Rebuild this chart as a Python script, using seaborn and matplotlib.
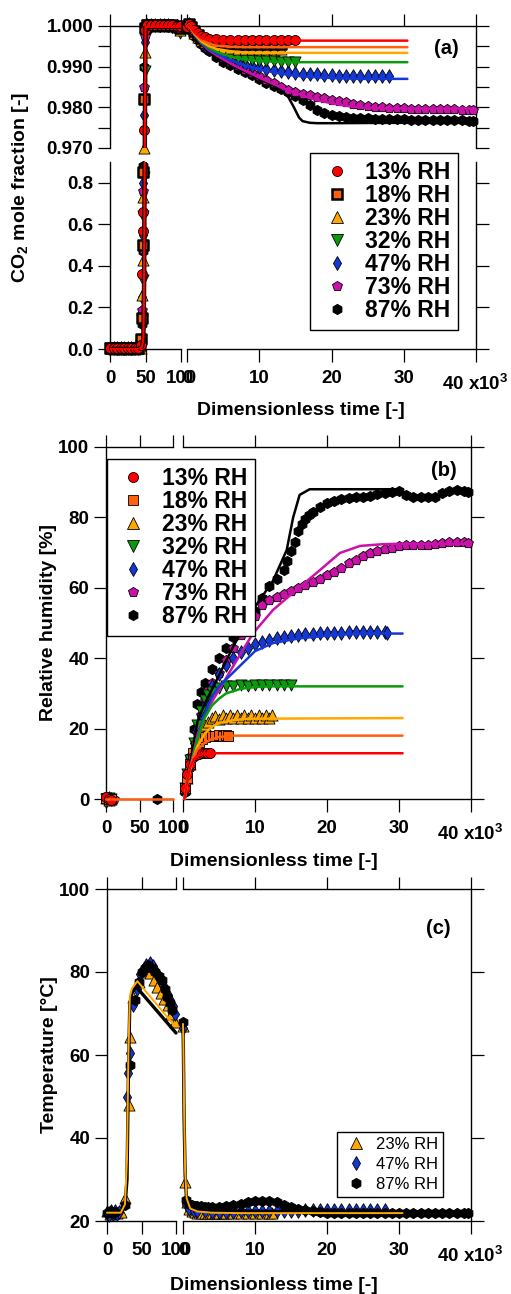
import numpy as np
import pandas as pd
import matplotlib
matplotlib.use('Agg')
import matplotlib.pyplot as plt
from matplotlib.lines import Line2D
import seaborn as sns

W, H = 511, 1294

# ---------------- series styling ----------------
LABELS = ['13% RH', '18% RH', '23% RH', '32% RH', '47% RH', '73% RH', '87% RH']
COLORS = ['#ff0000', '#ff6010', '#ffa800', '#0a9a0a', '#1438d8', '#cc11aa', '#000000']
MARKERS = ['o', 's', '^', 'v', 'd', 'p', 'h']
SIZES = [52, 42, 64, 64, 48, 55, 55]

# ---------------- (a) CO2 mole fraction ----------------
# left segment of the time axis (0-100)
A_LEFT_T = [0, 5, 10, 15, 20, 25, 30, 35, 40, 44, 45, 46, 47, 48, 49, 52, 58, 64, 70, 76, 82, 88, 94, 99]
A13_LEFT = [0.004, 0.003, 0.004, 0.003, 0.004, 0.003, 0.004, 0.003, 0.004, 0.02, 0.36, 0.57, 0.66, 0.9745, 0.9990,
            1.0002, 1.0003, 1.0002, 1.0003, 1.0002, 1.0003, 1.0002, 1.0001, 1.0000]
A18_LEFT = [0.005, 0.004, 0.005, 0.004, 0.005, 0.004, 0.005, 0.004, 0.005, 0.05, 0.15, 0.50, 0.85, 0.9820, 0.9995,
            1.0003, 1.0002, 1.0003, 1.0002, 1.0003, 1.0002, 1.0003, 1.0001, 0.9995]
A23_LEFT = [0.003, 0.002, 0.003, 0.002, 0.003, 0.002, 0.003, 0.002, 0.003, 0.005, 0.26, 0.43, 0.73, 0.9700, 0.9935,
            1.0001, 1.0002, 1.0001, 1.0002, 1.0001, 1.0002, 1.0001, 0.9998, 0.9990]
A32_LEFT = [0.004, 0.003, 0.004, 0.003, 0.004, 0.003, 0.004, 0.003, 0.004, 0.02, 0.14, 0.33, 0.64, 0.83, 0.9890,
            1.0002, 1.0001, 1.0002, 1.0001, 1.0002, 1.0000, 0.9997, 0.9992, 0.9982]
A47_LEFT = [0.003, 0.004, 0.003, 0.004, 0.003, 0.004, 0.003, 0.004, 0.003, 0.03, 0.25, 0.55, 0.80, 0.9780, 0.9960,
            1.0002, 1.0003, 1.0002, 1.0003, 1.0002, 1.0003, 1.0001, 0.9999, 0.9995]
A73_LEFT = [0.004, 0.005, 0.004, 0.005, 0.004, 0.005, 0.004, 0.005, 0.004, 0.02, 0.19, 0.48, 0.76, 0.9850, 0.9975,
            1.0003, 1.0002, 1.0003, 1.0002, 1.0003, 1.0002, 1.0003, 1.0000, 0.9993]
A87_LEFT = [0.005, 0.004, 0.005, 0.004, 0.005, 0.004, 0.005, 0.004, 0.005, 0.01, 0.12, 0.47, 0.88, 0.9900, 0.9985,
            1.0004, 1.0003, 1.0004, 1.0003, 1.0004, 1.0003, 1.0004, 1.0002, 0.9996]
A_LEFT_LINE_T = [0, 40, 45, 47, 48, 48.5, 49, 50, 100]
A_LEFT_LINE = [0.0, 0.0, 0.01, 0.05, 0.3, 0.7, 0.97, 0.9998, 0.9998]

# right segment of the time axis (x10^3)
A_RIGHT_T = [0, 0.3, 0.6, 1, 1.5, 2, 2.5, 3, 4, 5, 6, 7, 8, 9, 10, 11, 12, 13, 14, 15, 16, 17, 18, 19, 20,
             21, 22, 23, 24, 25, 26, 27, 28, 29, 30, 31, 32, 33, 34, 35, 36, 37, 38, 39, 39.6]
A13_RIGHT = [0.9998, 1.0004, 1.0000, 0.9990, 0.9982, 0.9976, 0.9972, 0.9969, 0.9967, 0.9966, 0.9966, 0.9966,
             0.9966, 0.9966, 0.9966, 0.9966, 0.9966, 0.9966, 0.9966, 0.9966]
A18_RIGHT = [0.9998, 1.0004, 0.9998, 0.9987, 0.9977, 0.9970, 0.9965, 0.9962, 0.9958, 0.9957, 0.9956, 0.9956,
             0.9956, 0.9956, 0.9956, 0.9956, 0.9956, 0.9956]
A23_RIGHT = [0.9998, 1.0003, 0.9996, 0.9984, 0.9974, 0.9966, 0.9960, 0.9955, 0.9950, 0.9947, 0.9945, 0.9944,
             0.9943, 0.9943, 0.9943, 0.9943, 0.9943, 0.9943]
A32_RIGHT = [0.9998, 1.0003, 0.9995, 0.9982, 0.9971, 0.9962, 0.9955, 0.9950, 0.9941, 0.9933, 0.9926, 0.9921,
             0.9918, 0.9916, 0.9915, 0.9914, 0.9913, 0.9912, 0.9912, 0.9912]
A47_RIGHT = [0.9998, 1.0004, 0.9995, 0.9981, 0.9969, 0.9960, 0.9952, 0.9946, 0.9937, 0.9928, 0.9920, 0.9913,
             0.9907, 0.9902, 0.9898, 0.9895, 0.9892, 0.9889, 0.9887, 0.9885, 0.9883, 0.9882, 0.9881, 0.9880,
             0.9879, 0.9878, 0.9877, 0.9877, 0.9877, 0.9877, 0.9877, 0.9877, 0.9877]
A73_RIGHT = [0.9998, 1.0003, 0.9992, 0.9978, 0.9968, 0.9959, 0.9951, 0.9945, 0.9933, 0.9921, 0.9911, 0.9902,
             0.9893, 0.9885, 0.9876, 0.9868, 0.9859, 0.9850, 0.9843, 0.9838, 0.9834, 0.9830, 0.9826, 0.9822,
             0.9818, 0.9815, 0.9812, 0.9809, 0.9806, 0.9803, 0.9801, 0.9800, 0.9799, 0.9798, 0.9798, 0.9797,
             0.9797, 0.9796, 0.9796, 0.9795, 0.9795, 0.9795, 0.9794, 0.9794, 0.9794]
A87_RIGHT = [0.9998, 1.0003, 0.9990, 0.9976, 0.9965, 0.9956, 0.9946, 0.9938, 0.9923, 0.9912, 0.9903, 0.9895,
             0.9887, 0.9879, 0.9870, 0.9861, 0.9853, 0.9846, 0.9838, 0.9829, 0.9818, 0.9805, 0.9794, 0.9786,
             0.9781, 0.9778, 0.9776, 0.9775, 0.9774, 0.9773, 0.9772, 0.9772, 0.9771, 0.9771, 0.9771, 0.9770,
             0.9770, 0.9769, 0.9769, 0.9769, 0.9768, 0.9768, 0.9768, 0.9767, 0.9767]

# model curves, right segment
LA13_T = [0, 0.3, 1, 2, 3, 4, 30.5]
LA13 = [0.9998, 1.0003, 0.9985, 0.9970, 0.9966, 0.9964, 0.9964]
LA18_T = [0, 0.3, 1, 2, 3, 4, 6, 8, 30.5]
LA18 = [0.9998, 1.0003, 0.9983, 0.9966, 0.9957, 0.9952, 0.9949, 0.9948, 0.9948]
LA23_T = [0, 0.3, 1, 2, 3, 4, 6, 8, 10, 30.5]
LA23 = [0.9998, 1.0003, 0.9982, 0.9962, 0.9951, 0.9944, 0.9938, 0.9935, 0.9934, 0.9934]
LA32_T = [0, 0.3, 1, 2, 3, 4, 6, 8, 10, 12, 14, 30.5]
LA32 = [0.9998, 1.0003, 0.9981, 0.9960, 0.9947, 0.9937, 0.9925, 0.9918, 0.9914, 0.9912, 0.9911, 0.9911]
LA47_T = [0, 0.3, 1, 2, 3, 4, 6, 8, 10, 12, 14, 16, 18, 20, 22, 24, 30.5]
LA47 = [0.9998, 1.0003, 0.9980, 0.9958, 0.9944, 0.9933, 0.9916, 0.9903, 0.9893, 0.9886, 0.9880, 0.9876,
        0.9874, 0.9872, 0.9871, 0.9870, 0.9870]
LA73_T = [0, 0.3, 1, 2, 3, 4, 6, 8, 10, 12, 14, 16, 18, 20, 22, 24, 26, 28, 30, 39.6]
LA73 = [0.9998, 1.0003, 0.9979, 0.9957, 0.9941, 0.9929, 0.9908, 0.9890, 0.9873, 0.9857, 0.9842, 0.9829,
        0.9818, 0.9810, 0.9804, 0.9800, 0.9798, 0.9797, 0.9797, 0.9797]
LA87_T = [0, 0.3, 1, 2, 3, 4, 6, 8, 10, 12, 13, 14, 14.8, 15.5, 16, 17, 18, 20, 30, 39.6]
LA87 = [0.9998, 1.0003, 0.9978, 0.9955, 0.9938, 0.9924, 0.9904, 0.9887, 0.9870, 0.9853, 0.9842, 0.9826,
        0.9800, 0.9775, 0.9766, 0.9762, 0.9761, 0.9761, 0.9762, 0.9762]

# ---------------- (b) relative humidity ----------------
B_LEFT_T = [0, 4, 8]
B73_LEFT_T = [0, 6, 12]
B87_LEFT_T = [0, 4, 76]
B13_LEFT = [0.5, 0.0, -0.2]
B18_LEFT = [0.3, 0.1, 0.0]
B23_LEFT = [0.2, -0.3, 0.0]
B32_LEFT = [0.0, 0.2, -0.1]
B47_LEFT = [-0.5, 0.4, 0.0]
B73_LEFT = [0.6, 0.0, 0.1]
B87_LEFT = [0.2, -0.2, 0.0]
B_LEFT_LINE_T = [0, 100]
B_LEFT_LINE = [0, 0]

B13_T = [0.3, 0.6, 1, 1.4, 1.8, 2.2, 2.6, 3.0, 3.4, 3.75]
B13 = [3, 7, 10, 11.8, 12.5, 12.9, 13, 13, 13, 13]
B18_T = [0.3, 0.6, 1, 1.4, 1.8, 2.2, 2.6, 3, 3.5, 4, 4.5, 5, 5.5, 6, 6.3]
B18 = [3, 6, 10, 13, 15, 16.3, 17, 17.5, 17.8, 18, 18, 18.1, 18, 18.1, 18]
B23_T = [0.3, 0.6, 1, 1.5, 2, 2.5, 3, 3.5, 4, 4.5, 5, 5.5, 6, 6.5, 7, 7.5, 8, 8.5, 9, 9.5, 10, 10.5, 11,
         11.5, 12, 12.3]
B23 = [3, 6, 10, 14, 17, 19, 21, 22, 23, 23.5, 22.8, 23.8, 22.9, 23.9, 23, 24, 23, 24, 23, 24, 23, 24, 23,
       24, 23.1, 23.8]
B32_T = [0.3, 0.6, 1, 1.5, 2, 2.5, 3, 3.5, 4, 5, 6, 7, 8, 9, 10, 11, 12, 13, 14, 15]
B32 = [3, 7, 11, 16, 21, 25, 28, 29.5, 30.5, 31.5, 32, 32.2, 32.4, 32.2, 32.5, 32.3, 32.5, 32.4, 32.5, 32.5]
B47_T = [0.3, 0.6, 1, 1.5, 2, 2.5, 3, 3.5, 4, 5, 6, 7, 8, 9, 10, 11, 12, 13, 14, 15, 16, 17, 18, 19, 20,
         21, 22, 23, 24, 25, 26, 27, 28, 28.3]
B47 = [3, 7, 11, 16, 20, 24, 27, 29.5, 32, 35.5, 38, 40, 41.8, 43, 44, 44.7, 45.2, 45.7, 46, 46.3, 46.6,
       46.8, 47, 47.1, 47.2, 47.3, 47.3, 47.4, 47.4, 47.5, 47.5, 47.5, 47.5, 47.3]
B73_T = [0.3, 0.6, 1, 1.5, 2, 2.5, 3, 3.5, 4, 5, 6, 7, 8, 9, 10, 11, 12, 13, 14, 15, 16, 17, 18, 19, 20,
         21, 22, 23, 24, 25, 26, 27, 28, 29, 30, 31, 32, 33, 34, 35, 36, 37, 38, 39, 39.6]
B73 = [3, 6, 9, 14, 19, 24, 28, 31, 33, 35.8, 39.5, 43, 46.5, 49, 52, 55, 56.5, 57.4, 58.3, 59.2, 60,
       60.8, 61.6, 62.5, 63.5, 64.4, 65.5, 67, 68, 69, 69.8, 70.4, 70.9, 71.4, 71.9, 72.1, 72.2, 72.2,
       72.3, 72.4, 72.7, 73, 73.1, 73, 72.7]
B87_T = [0.3, 0.6, 1, 1.5, 2, 2.5, 3, 4, 5, 6, 7, 8, 9, 10, 11, 12, 13, 14, 14.5, 15, 15.5, 16, 16.5, 17,
         17.5, 18, 19, 20, 21, 22, 23, 24, 25, 26, 27, 28, 29, 30, 31, 32, 33, 34, 35, 36, 37, 38, 39, 39.6]
B87 = [2, 7, 12, 20, 27, 30.5, 33, 36.8, 40, 43, 46, 48.5, 50.8, 53.5, 57, 60.5, 62.5, 65, 67.5, 70.5, 73,
       76, 78, 79.5, 80.7, 81.6, 83, 84, 84.7, 85.1, 85.5, 85.7, 85.9, 86.2, 86.6, 87, 87.3, 87.6, 86.4,
       85.9, 85.7, 85.7, 85.9, 86.8, 87.5, 87.7, 87.4, 87.2]

LB13_T = [0.2, 0.6, 1, 1.5, 2, 3, 4, 30.5]
LB13 = [0, 5, 9, 11.3, 12.3, 12.9, 13, 13]
LB18_T = [0.2, 0.6, 1, 1.5, 2, 3, 4, 5, 7, 30.5]
LB18 = [0, 5, 9, 12, 14, 16, 17, 17.6, 18, 18]
LB23_T = [0.2, 0.6, 1, 1.5, 2, 3, 4, 5, 7, 9, 30.5]
LB23 = [0, 5, 8.5, 12, 15, 18.5, 20.5, 21.6, 22.4, 22.8, 23]
LB32_T = [0.2, 0.6, 1, 2, 3, 4, 5, 6, 8, 10, 12, 30.5]
LB32 = [0, 5, 8.5, 17, 23, 26.5, 28.5, 30, 31.3, 31.8, 32, 32]
LB47_T = [0.2, 0.6, 1, 2, 3, 4, 5, 7, 10, 12.5, 16, 21, 25, 30.5]
LB47 = [0, 5, 9, 17, 24, 29, 32, 36, 42, 44.3, 45.6, 46.6, 47, 47]
LB73_T = [0.2, 0.6, 1, 2, 3, 4.7, 6.9, 9.7, 12.5, 16.2, 19, 21.8, 24.6, 27.8, 30, 39.6]
LB73 = [0, 5, 9, 18, 24, 30, 37.5, 47, 53.7, 60.2, 65, 69.9, 71.9, 72.4, 72.5, 72.5]
LB87_T = [0.2, 0.6, 1, 2, 3, 3.75, 6.9, 9.7, 12.5, 14.4, 15.3, 16.2, 17.6, 30.5]
LB87 = [0, 5, 10, 22, 27, 30, 43, 53.7, 62, 70.7, 80, 86.4, 88, 88]

# ---------------- (c) temperature ----------------
C23_LEFT_T = [0, 5, 10, 15, 20, 26, 32, 33, 38, 46, 52, 58, 63, 68, 73, 78, 83, 88, 93, 98]
C23_LEFT = [22.3, 21.8, 22.2, 21.9, 22.1, 25.5, 48, 64.3, 74, 77.5, 80, 80.5, 79.8, 78, 76.5, 75, 73.5,
            72, 70, 68]
C47_LEFT_T = [0, 3, 6, 9, 12, 15, 18, 29, 31, 33, 38, 43, 48, 52, 57, 62, 66, 70, 74, 77, 81, 84, 88, 91,
              95, 99]
C47_LEFT = [22, 21.5, 22.5, 21.8, 22.4, 21.7, 22.2, 50, 55.7, 60.5, 72, 76, 79.5, 80.5, 81.8, 82.1, 81.5,
            80.5, 79.3, 78, 76.8, 75.7, 74.5, 73.3, 71.8, 70]
C87_LEFT_T = [0, 4, 8, 12, 26, 33, 41, 46, 51, 55, 59, 64, 70, 75, 80, 84, 87, 91, 94]
C87_LEFT = [22, 22.4, 21.9, 22.2, 23.9, 57.6, 73.3, 77.5, 80, 81, 81.7, 81, 80, 79, 78, 76, 74, 72.5, 70.8]
LC87_LEFT_T = [0, 20, 26, 29, 31, 33, 36, 42, 100]
LC87_LEFT = [22, 22, 23.5, 30, 55, 72, 75, 76.5, 65.3]
LC23_LEFT_T = [0, 20, 26, 29, 31, 33, 36, 44, 98]
LC23_LEFT = [22, 22, 24, 35, 60, 74, 76, 77.8, 67]

C23_RIGHT_T = [0.05, 0.28, 0.5, 0.8, 1.2, 1.6, 2, 2.5, 3, 3.5, 4, 4.5, 5, 5.5, 6, 7, 8, 9, 10, 11, 12, 12.3]
C23_RIGHT = [67, 29.4, 24.5, 22.8, 22.3, 22.2, 22, 22, 21.9, 22, 21.9, 22, 21.9, 21.9, 22, 21.9, 22, 21.9,
             21.9, 22, 21.9, 21.9]
C47_RIGHT_T = [0.05, 0.4, 0.8, 1.5, 2, 3, 4, 5, 6, 7, 8, 9, 10, 11, 12, 13, 14, 15, 16, 17, 18, 19, 20, 21,
               22, 23, 24, 25, 26, 27, 28]
C47_RIGHT = [66.5, 24, 22.8, 22.5, 22.4, 22.3, 22.2, 22.2, 22.2, 22.2, 22.3, 22.4, 22.4, 22.4, 22.3, 22.3,
             22.3, 22.4, 22.5, 22.6, 22.6, 22.6, 22.6, 22.6, 22.6, 22.6, 22.6, 22.6, 22.6, 22.6, 22.6]
C87_RIGHT_T = [0.05, 0.4, 0.8, 1.2, 1.6, 2, 2.5, 3, 3.5, 4, 5, 6, 7, 8, 9, 10, 11, 12, 13, 14, 15, 16, 17,
               18, 19, 20, 21, 22, 23, 24, 25, 26, 27, 28, 29, 30, 31, 32, 33, 34, 35, 36, 37, 38, 39, 39.6]
C87_RIGHT = [68, 25, 24, 23.8, 23.7, 23.6, 23.5, 23.4, 23.4, 23.4, 23.4, 23.5, 23.8, 24.2, 24.6, 24.8,
             24.8, 24.9, 24.5, 23.9, 23.4, 23, 22.6, 22.3, 22.1, 22, 21.9, 21.9, 21.9, 21.9, 21.9, 22, 21.9,
             21.9, 21.9, 21.9, 21.9, 21.9, 21.9, 21.9, 21.9, 21.9, 21.9, 22, 22, 22]
LC87_RIGHT_T = [0, 0.05, 0.15, 0.3, 0.5, 1, 2, 4, 8, 12, 20, 30, 39.6]
LC87_RIGHT = [67, 62, 45, 31, 25, 23.5, 23, 22.6, 22.4, 22.3, 22.1, 22, 22]
LC23_RIGHT_T = [0, 0.05, 0.15, 0.3, 0.5, 1, 2, 4, 8, 30.5]
LC23_RIGHT = [67.5, 63, 47, 32, 25.5, 23, 22.3, 22, 21.9, 21.9]

LEFT_XTICKS = [0, 50, 100]
LEFT_XLABELS = ['0', '50', '100']
RIGHT_XTICKS = [0, 10, 20, 30, 40]
RIGHT_XLABELS = ['0', '10', '20', '30', '']

FONT = 'Liberation Sans'


# Place an axes using pixel coordinates measured from the top-left corner
def px_axes(fig, x0, y0, x1, y1):
    return fig.add_axes([x0 / W, 1 - y1 / H, (x1 - x0) / W, (y1 - y0) / H])


# Scatter one experimental series (optionally keeping only part of its range)
def draw_markers(ax, t, v, i, lo=None, hi=None, edge=0.6):
    df = pd.DataFrame({'t': t, 'v': v})
    if lo is not None:
        df = df[df['v'] >= lo]
    if hi is not None:
        df = df[df['v'] <= hi]
    if df.empty:
        return
    sns.scatterplot(data=df, x='t', y='v', ax=ax, color=COLORS[i], marker=MARKERS[i], s=SIZES[i],
                    edgecolor='black', linewidth=edge, clip_on=False, legend=False, zorder=3)


# Model curve as a solid line
def draw_line(ax, t, v, color, lw=1.8, clip=False):
    df = pd.DataFrame({'t': t, 'v': v})
    sns.lineplot(data=df, x='t', y='v', ax=ax, color=color, linewidth=lw, sort=False,
                 estimator=None, legend=False, zorder=4, clip_on=clip)


# Igor-like frame: only the outer spines, outward ticks
def style_axes(ax, sides, xlim, ylim, xticks, xlabels, yticks, ylabels):
    ax.set_xlim(*xlim)
    ax.set_ylim(*ylim)
    ax.set_facecolor('none')
    ax.set_xlabel('')
    ax.set_ylabel('')
    ax.grid(False)
    for side in ['left', 'right', 'top', 'bottom']:
        ax.spines[side].set_visible(side in sides)
        ax.spines[side].set_linewidth(1.0)
        ax.spines[side].set_color('black')
    ax.set_xticks(xticks)
    ax.set_xticklabels(xlabels)
    ax.set_yticks(yticks)
    ax.set_yticklabels(ylabels)
    ax.tick_params(axis='both', direction='out', length=9, width=0.9, colors='black', labelsize=13.5)
    ax.tick_params(axis='x', top='top' in sides, bottom='bottom' in sides, labeltop=False,
                   labelbottom='bottom' in sides, pad=6)
    ax.tick_params(axis='y', left='left' in sides, right='right' in sides, labelleft='left' in sides,
                   labelright=False, pad=3)
    for lab in ax.get_xticklabels() + ax.get_yticklabels():
        lab.set_fontweight('bold')
        lab.set_family(FONT)
        lab.set_color('black')


def add_legend(fig, idx, x0, y0, size, weight, spacing, hlen, htpad, bpad, edges):
    handles = [Line2D([], [], linestyle='none', marker=MARKERS[i], markersize=np.sqrt(SIZES[i]),
                      markerfacecolor=COLORS[i], markeredgecolor='black', markeredgewidth=edges[k])
               for k, i in enumerate(idx)]
    leg = fig.legend(handles, [LABELS[i] for i in idx], loc='upper left',
                     bbox_to_anchor=(x0 / W, 1 - y0 / H), bbox_transform=fig.transFigure,
                     frameon=True, fancybox=False, edgecolor='black', framealpha=1, borderaxespad=0,
                     prop=dict(family=FONT, weight=weight, size=size), labelspacing=spacing,
                     handlelength=hlen, handletextpad=htpad, borderpad=bpad, shadow=False,
                     labelcolor='black')
    leg.get_frame().set_linewidth(1.0)
    return leg


sns.set_theme(style='ticks')
plt.rcParams['font.family'] = [FONT, 'DejaVu Sans']
plt.rcParams['text.color'] = 'black'
plt.rcParams['axes.labelcolor'] = 'black'
plt.rcParams['xtick.color'] = 'black'
plt.rcParams['ytick.color'] = 'black'
plt.rcParams['mathtext.fontset'] = 'custom'
plt.rcParams['mathtext.rm'] = FONT + ':bold'
plt.rcParams['mathtext.it'] = FONT + ':bold:italic'
plt.rcParams['mathtext.bf'] = FONT + ':bold'
plt.rcParams['mathtext.default'] = 'rm'

fig = plt.figure(figsize=(W / 100, H / 100), dpi=100)
fig.patch.set_facecolor('white')

# ================= panel (a) =================
ax_atl = px_axes(fig, 110, 26, 181, 148)
ax_atr = px_axes(fig, 187, 26, 476, 148)
ax_abl = px_axes(fig, 110, 162, 181, 349)
ax_abr = px_axes(fig, 187, 162, 476, 349)

a_left = [A13_LEFT, A18_LEFT, A23_LEFT, A32_LEFT, A47_LEFT, A73_LEFT, A87_LEFT]
a_right = [A13_RIGHT, A18_RIGHT, A23_RIGHT, A32_RIGHT, A47_RIGHT, A73_RIGHT, A87_RIGHT]
a_lines = [(LA13_T, LA13), (LA18_T, LA18), (LA23_T, LA23), (LA32_T, LA32), (LA47_T, LA47),
           (LA73_T, LA73), (LA87_T, LA87)]
for i in range(6, -1, -1):
    edge = 1.8 if i == 1 else 0.6
    draw_markers(ax_atl, A_LEFT_T, a_left[i], i, lo=0.9685, edge=edge)
    draw_markers(ax_abl, A_LEFT_T, a_left[i], i, hi=0.905, edge=edge)
    draw_markers(ax_atr, A_RIGHT_T[:len(a_right[i])], a_right[i], i, edge=edge)
for i in range(6, -1, -1):
    draw_line(ax_atr, a_lines[i][0], a_lines[i][1], COLORS[i])
for ax in (ax_atl, ax_abl):
    draw_line(ax, A_LEFT_LINE_T, A_LEFT_LINE, 'black', lw=3.2, clip=True)
    draw_line(ax, A_LEFT_LINE_T, A_LEFT_LINE, COLORS[0], lw=1.6, clip=True)

a_top_ticks = [0.970, 0.975, 0.980, 0.985, 0.990, 0.995, 1.000]
a_top_labels = ['0.970', '', '0.980', '', '0.990', '', '1.000']
a_bot_ticks = [0.0, 0.2, 0.4, 0.6, 0.8]
a_bot_labels = ['0.0', '0.2', '0.4', '0.6', '0.8']
style_axes(ax_atl, ['left', 'top'], (0, 100), (0.970, 1.000), LEFT_XTICKS, LEFT_XLABELS,
           a_top_ticks, a_top_labels)
style_axes(ax_atr, ['right', 'top'], (0, 40), (0.970, 1.000), RIGHT_XTICKS, RIGHT_XLABELS,
           a_top_ticks, a_top_labels)
style_axes(ax_abl, ['left', 'bottom'], (0, 100), (0, 0.9), LEFT_XTICKS, LEFT_XLABELS,
           a_bot_ticks, a_bot_labels)
style_axes(ax_abr, ['right', 'bottom'], (0, 40), (0, 0.9), RIGHT_XTICKS, RIGHT_XLABELS,
           a_bot_ticks, a_bot_labels)

# ================= panel (b) =================
ax_bl = px_axes(fig, 106, 447, 173, 799)
ax_br = px_axes(fig, 183, 447, 471, 799)

b_left = [(B_LEFT_T, B13_LEFT), (B_LEFT_T, B18_LEFT), (B_LEFT_T, B23_LEFT), (B_LEFT_T, B32_LEFT),
          (B_LEFT_T, B47_LEFT), (B73_LEFT_T, B73_LEFT), (B87_LEFT_T, B87_LEFT)]
b_right = [(B13_T, B13), (B18_T, B18), (B23_T, B23), (B32_T, B32), (B47_T, B47), (B73_T, B73), (B87_T, B87)]
b_lines = [(LB13_T, LB13), (LB18_T, LB18), (LB23_T, LB23), (LB32_T, LB32), (LB47_T, LB47),
           (LB73_T, LB73), (LB87_T, LB87)]
for i in range(6, -1, -1):
    draw_markers(ax_bl, b_left[i][0], b_left[i][1], i)
    draw_markers(ax_br, b_right[i][0], b_right[i][1], i)
for i in range(6, -1, -1):
    draw_line(ax_br, b_lines[i][0], b_lines[i][1], COLORS[i])
draw_line(ax_bl, B_LEFT_LINE_T, B_LEFT_LINE, COLORS[1])

b_ticks = [0, 20, 40, 60, 80, 100]
b_labels = ['0', '20', '40', '60', '80', '100']
style_axes(ax_bl, ['left', 'top', 'bottom'], (0, 100), (0, 100), LEFT_XTICKS, LEFT_XLABELS, b_ticks, b_labels)
style_axes(ax_br, ['right', 'top', 'bottom'], (0, 40), (0, 100), RIGHT_XTICKS, RIGHT_XLABELS, b_ticks, b_labels)

# ================= panel (c) =================
ax_cl = px_axes(fig, 107, 889, 176, 1221)
ax_cr = px_axes(fig, 183, 889, 471, 1221)

c_left = {2: (C23_LEFT_T, C23_LEFT), 4: (C47_LEFT_T, C47_LEFT), 6: (C87_LEFT_T, C87_LEFT)}
c_right = {2: (C23_RIGHT_T, C23_RIGHT), 4: (C47_RIGHT_T, C47_RIGHT), 6: (C87_RIGHT_T, C87_RIGHT)}
for i in (2, 4, 6):
    draw_markers(ax_cl, c_left[i][0], c_left[i][1], i)
    draw_markers(ax_cr, c_right[i][0], c_right[i][1], i)
draw_line(ax_cl, LC87_LEFT_T, LC87_LEFT, 'black', lw=2.4)
draw_line(ax_cl, LC23_LEFT_T, LC23_LEFT, COLORS[2], lw=1.4)
draw_line(ax_cr, LC87_RIGHT_T, LC87_RIGHT, 'black', lw=2.4)
draw_line(ax_cr, LC23_RIGHT_T, LC23_RIGHT, COLORS[2], lw=1.4)

c_ticks = [20, 40, 60, 80, 100]
c_labels = ['20', '40', '60', '80', '100']
style_axes(ax_cl, ['left', 'top', 'bottom'], (0, 100), (20, 100), LEFT_XTICKS, LEFT_XLABELS, c_ticks, c_labels)
style_axes(ax_cr, ['right', 'top', 'bottom'], (0, 40), (20, 100), RIGHT_XTICKS, RIGHT_XLABELS, c_ticks, c_labels)

# ================= texts =================
bold = dict(family=FONT, weight='bold', color='black')
for x, y in ((442, 390), (437, 840), (437, 1262)):
    fig.text(x / W, 1 - y / H, '40 x10$^3$', ha='left', va='baseline', fontsize=13.5, **bold)
for x, y in ((301, 415), (274, 866), (274, 1290)):
    fig.text(x / W, 1 - y / H, 'Dimensionless time [-]', ha='center', va='baseline', fontsize=14, **bold)
fig.text(21 / W, 1 - 187 / H, 'CO$_2$ mole fraction [-]', rotation=90, ha='center', va='center',
         fontsize=14, **bold)
fig.text(49 / W, 1 - 623 / H, 'Relative humidity [%]', rotation=90, ha='center', va='center',
         fontsize=14, **bold)
fig.text(50 / W, 1 - 1055 / H, 'Temperature [°C]', rotation=90, ha='center', va='center',
         fontsize=14, **bold)
for s, x, y in (('(a)', 446, 48), ('(b)', 444, 471), ('(c)', 438, 928)):
    fig.text(x / W, 1 - y / H, s, ha='center', va='center', fontsize=14.5, **bold)

add_legend(fig, [0, 1, 2, 3, 4, 5, 6], 310, 153, 16.5, 'bold', 0.0, 1.64, 0.4, 0.35,
           [0.6, 1.8, 0.6, 0.6, 0.6, 0.6, 0.6])
add_legend(fig, [0, 1, 2, 3, 4, 5, 6], 107, 459, 16.5, 'bold', 0.0, 1.55, 0.49, 0.35,
           [0.6] * 7)
add_legend(fig, [2, 4, 6], 337, 1132, 12, 'normal', 0.3, 1.65, 0.36, 0.3, [0.6] * 3)

fig.savefig('out.png', dpi=100)
